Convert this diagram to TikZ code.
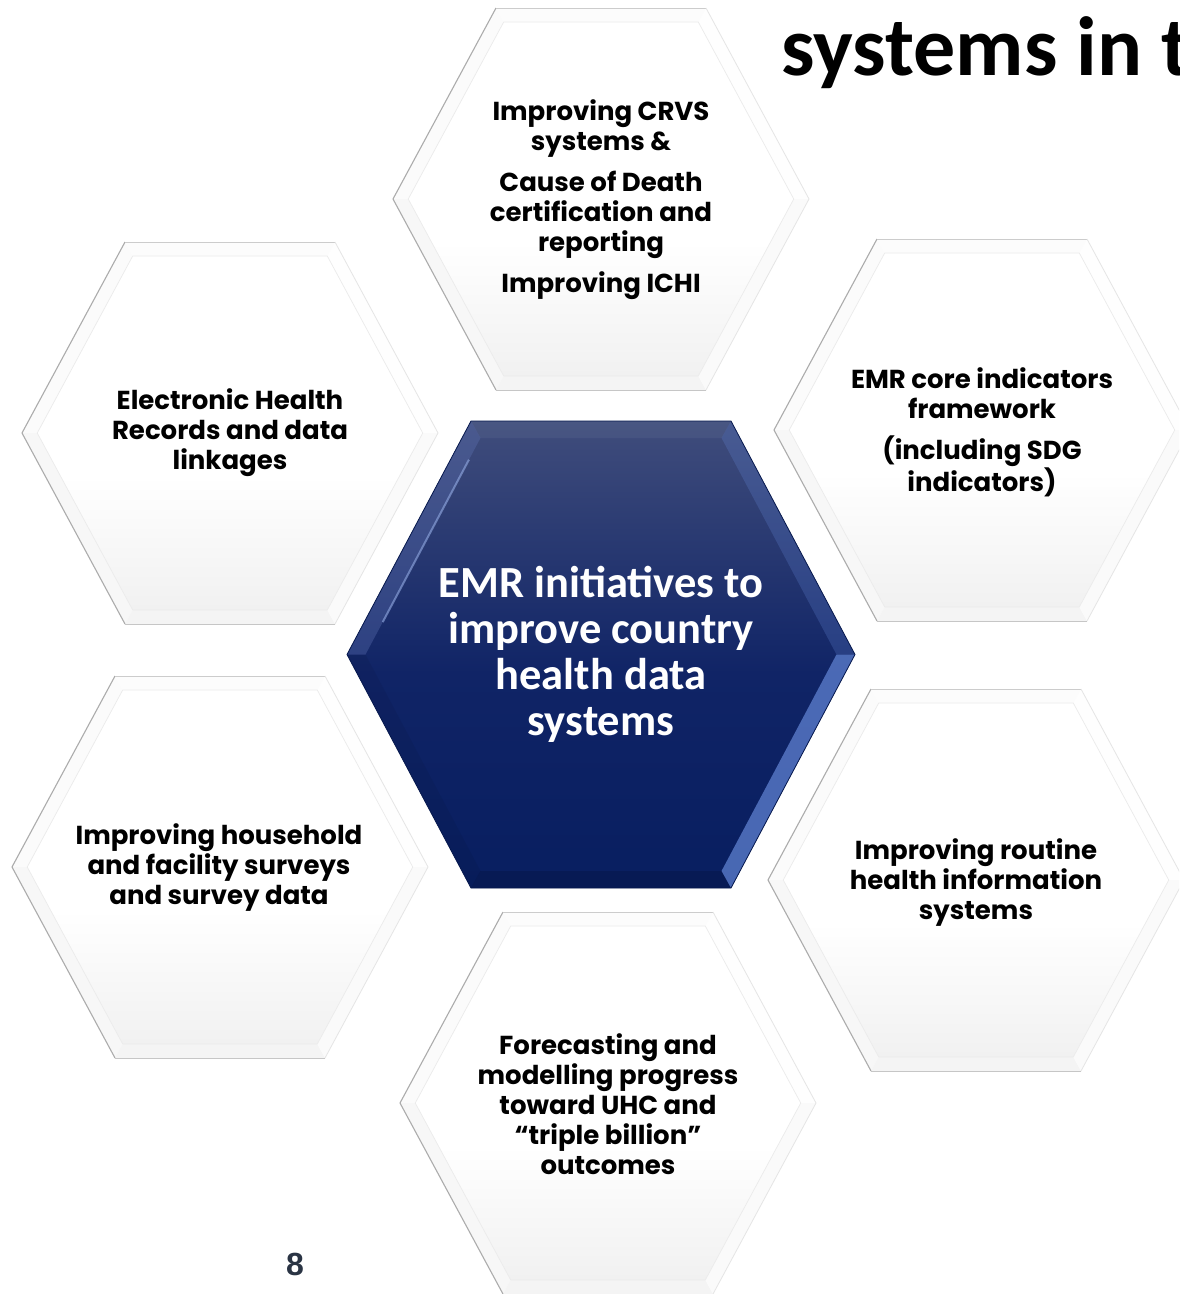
\documentclass[tikz,border=0pt]{standalone}
\usepackage{fontspec}
\setmainfont{Carlito}
\newfontfamily\hexfont{Poppins}
\newfontfamily\calfont{Carlito}
\newfontfamily\numfont{Liberation Sans}
\usetikzlibrary{calc}
\definecolor{navytop}{RGB}{64,77,124}
\definecolor{navymid}{RGB}{16,36,102}
\definecolor{navybot}{RGB}{8,30,96}
\definecolor{bevlight}{RGB}{100,135,215}
\definecolor{bevmid}{RGB}{95,115,180}
\definecolor{pagenumcol}{RGB}{42,52,68}
\pgfdeclareverticalshading{whitefade}{100bp}{color(0bp)=(gray!11); color(25bp)=(gray!11); color(44bp)=(white); color(100bp)=(white)}
\pgfdeclareverticalshading{navyfade}{100bp}{color(0bp)=(navybot); color(25bp)=(navybot); color(48bp)=(navymid); color(75bp)=(navytop); color(100bp)=(navytop)}
\tikzset{
  hextext/.style={align=center, text=black, inner sep=0pt,
    font=\hexfont\bfseries\fontsize{26}{30}\selectfont},
  centertext/.style={align=center, text=white, inner sep=0pt,
    font=\calfont\bfseries\fontsize{44.5}{46}\selectfont},
}
% #1 name, #2 cx, #3 cy, #4 R, #5 t, #6 h, #7 d
\newcommand\mkhexpts[7]{%
  \coordinate (#1-c) at (#2,#3);
  \coordinate (#1-A) at (#2-#4,#3);
  \coordinate (#1-B) at (#2-#5,#3-#6);
  \coordinate (#1-C) at (#2+#5,#3-#6);
  \coordinate (#1-D) at (#2+#4,#3);
  \coordinate (#1-E) at (#2+#5,#3+#6);
  \coordinate (#1-F) at (#2-#5,#3+#6);
  \pgfmathsetmacro\hk{(#6-#7)/#6}%
  \coordinate (#1-a) at ($(#1-c)!\hk!(#1-A)$);
  \coordinate (#1-b) at ($(#1-c)!\hk!(#1-B)$);
  \coordinate (#1-cc) at ($(#1-c)!\hk!(#1-C)$);
  \coordinate (#1-d) at ($(#1-c)!\hk!(#1-D)$);
  \coordinate (#1-e) at ($(#1-c)!\hk!(#1-E)$);
  \coordinate (#1-f) at ($(#1-c)!\hk!(#1-F)$);
}
\newcommand\whitehex[3]{% name cx cy
  \mkhexpts{#1}{#2}{#3}{208}{105}{191}{14}
  \fill[white] (#1-A)--(#1-B)--(#1-C)--(#1-D)--(#1-E)--(#1-F)--cycle;
  \shade[shading=whitefade]
     (#1-a)--(#1-b)--(#1-cc)--(#1-d)--(#1-e)--(#1-f)--cycle;
  \fill[gray!3]  (#1-A)--(#1-B)--(#1-b)--(#1-a)--cycle;
  \fill[gray!6]  (#1-F)--(#1-A)--(#1-a)--(#1-f)--cycle;
  \fill[gray!9]  (#1-E)--(#1-F)--(#1-f)--(#1-e)--cycle;
  \fill[gray!4]  (#1-D)--(#1-E)--(#1-e)--(#1-d)--cycle;
  \fill[gray!1]  (#1-C)--(#1-D)--(#1-d)--(#1-cc)--cycle;
  \fill[gray!2]  (#1-B)--(#1-C)--(#1-cc)--(#1-b)--cycle;
  \draw[gray!16, line width=0.7pt] (#1-a)--(#1-b)--(#1-cc)--(#1-d)--(#1-e)--(#1-f)--cycle;
  \draw[gray!65, line width=1.1pt] (#1-F)--(#1-A)--(#1-B);
  \draw[gray!40, line width=0.9pt] (#1-B)--(#1-C);
  \draw[gray!20, line width=0.8pt] (#1-C)--(#1-D)--(#1-E);
  \draw[gray!45, line width=0.9pt] (#1-E)--(#1-F);
}
\begin{document}
\begin{tikzpicture}[x=1pt,y=-1pt]
\useasboundingbox (0,0) rectangle (1179,1294);
\clip (0,0) rectangle (1179,1294);
\fill[white] (0,0) rectangle (1179,1294);

% outer hexagons
\whitehex{htop}{601}{199}
\whitehex{hul}{230}{433}
\whitehex{hur}{982}{430}
\whitehex{hll}{220}{867}
\whitehex{hlr}{976}{880}
\whitehex{hbot}{608}{1103}

% center hexagon
\mkhexpts{hc}{601}{654.5}{254}{130}{233.5}{17}
\shade[shading=navyfade]
   (hc-A)--(hc-B)--(hc-C)--(hc-D)--(hc-E)--(hc-F)--cycle;
\fill[bevmid, opacity=0.35] (hc-A)--(hc-B)--(hc-b)--(hc-a)--cycle;
\draw[bevlight!70!white, opacity=0.6, line width=2pt] ($(hc-a)!0.15!(hc-b)$)--($(hc-a)!0.9!(hc-b)$);
\fill[bevlight, opacity=0.25] (hc-C)--(hc-D)--(hc-d)--(hc-cc)--cycle;
\fill[bevlight, opacity=0.7] (hc-D)--(hc-E)--(hc-e)--(hc-d)--cycle;
\fill[black, opacity=0.06] (hc-F)--(hc-A)--(hc-a)--(hc-f)--cycle;
\fill[black, opacity=0.12] (hc-E)--(hc-F)--(hc-f)--(hc-e)--cycle;
\fill[white, opacity=0.05] (hc-B)--(hc-C)--(hc-cc)--(hc-b)--cycle;
\draw[navybot!80!black, line width=0.8pt] (hc-A)--(hc-B)--(hc-C)--(hc-D)--(hc-E)--(hc-F)--cycle;

% texts
\node[hextext] (ttop) at (601,200) {Improving CRVS\\systems \&\\[11pt]Cause of Death\\certification and\\reporting\\[11pt]Improving ICHI};
\node[hextext] (tul) at (230,433) {Electronic Health\\Records and data\\linkages};
\node[hextext] (tur) at (982,432) {EMR core indicators\\framework\\[11pt](including SDG\\indicators)};
\node[hextext] (tll) at (219,868) {Improving household\\and facility surveys\\and survey data};
\node[hextext] (tlr) at (976,883) {Improving routine\\health information\\systems};
\node[hextext] (tbot) at (608,1104) {Forecasting and\\modelling progress\\toward UHC and\\“triple billion”\\outcomes};
\node[centertext] (tc) at (601,654) {EMR initiatives to\\improve country\\health data\\systems};

% title fragment and page number
\node[anchor=base west, inner sep=0pt, font=\calfont\bfseries\fontsize{84}{90}\selectfont] (title) at (781,75) {systems in t};
\node[inner sep=0pt, text=pagenumcol, font=\numfont\bfseries\fontsize{32}{36}\selectfont] (pagenum) at (295,1264) {8};
\end{tikzpicture}
\end{document}
